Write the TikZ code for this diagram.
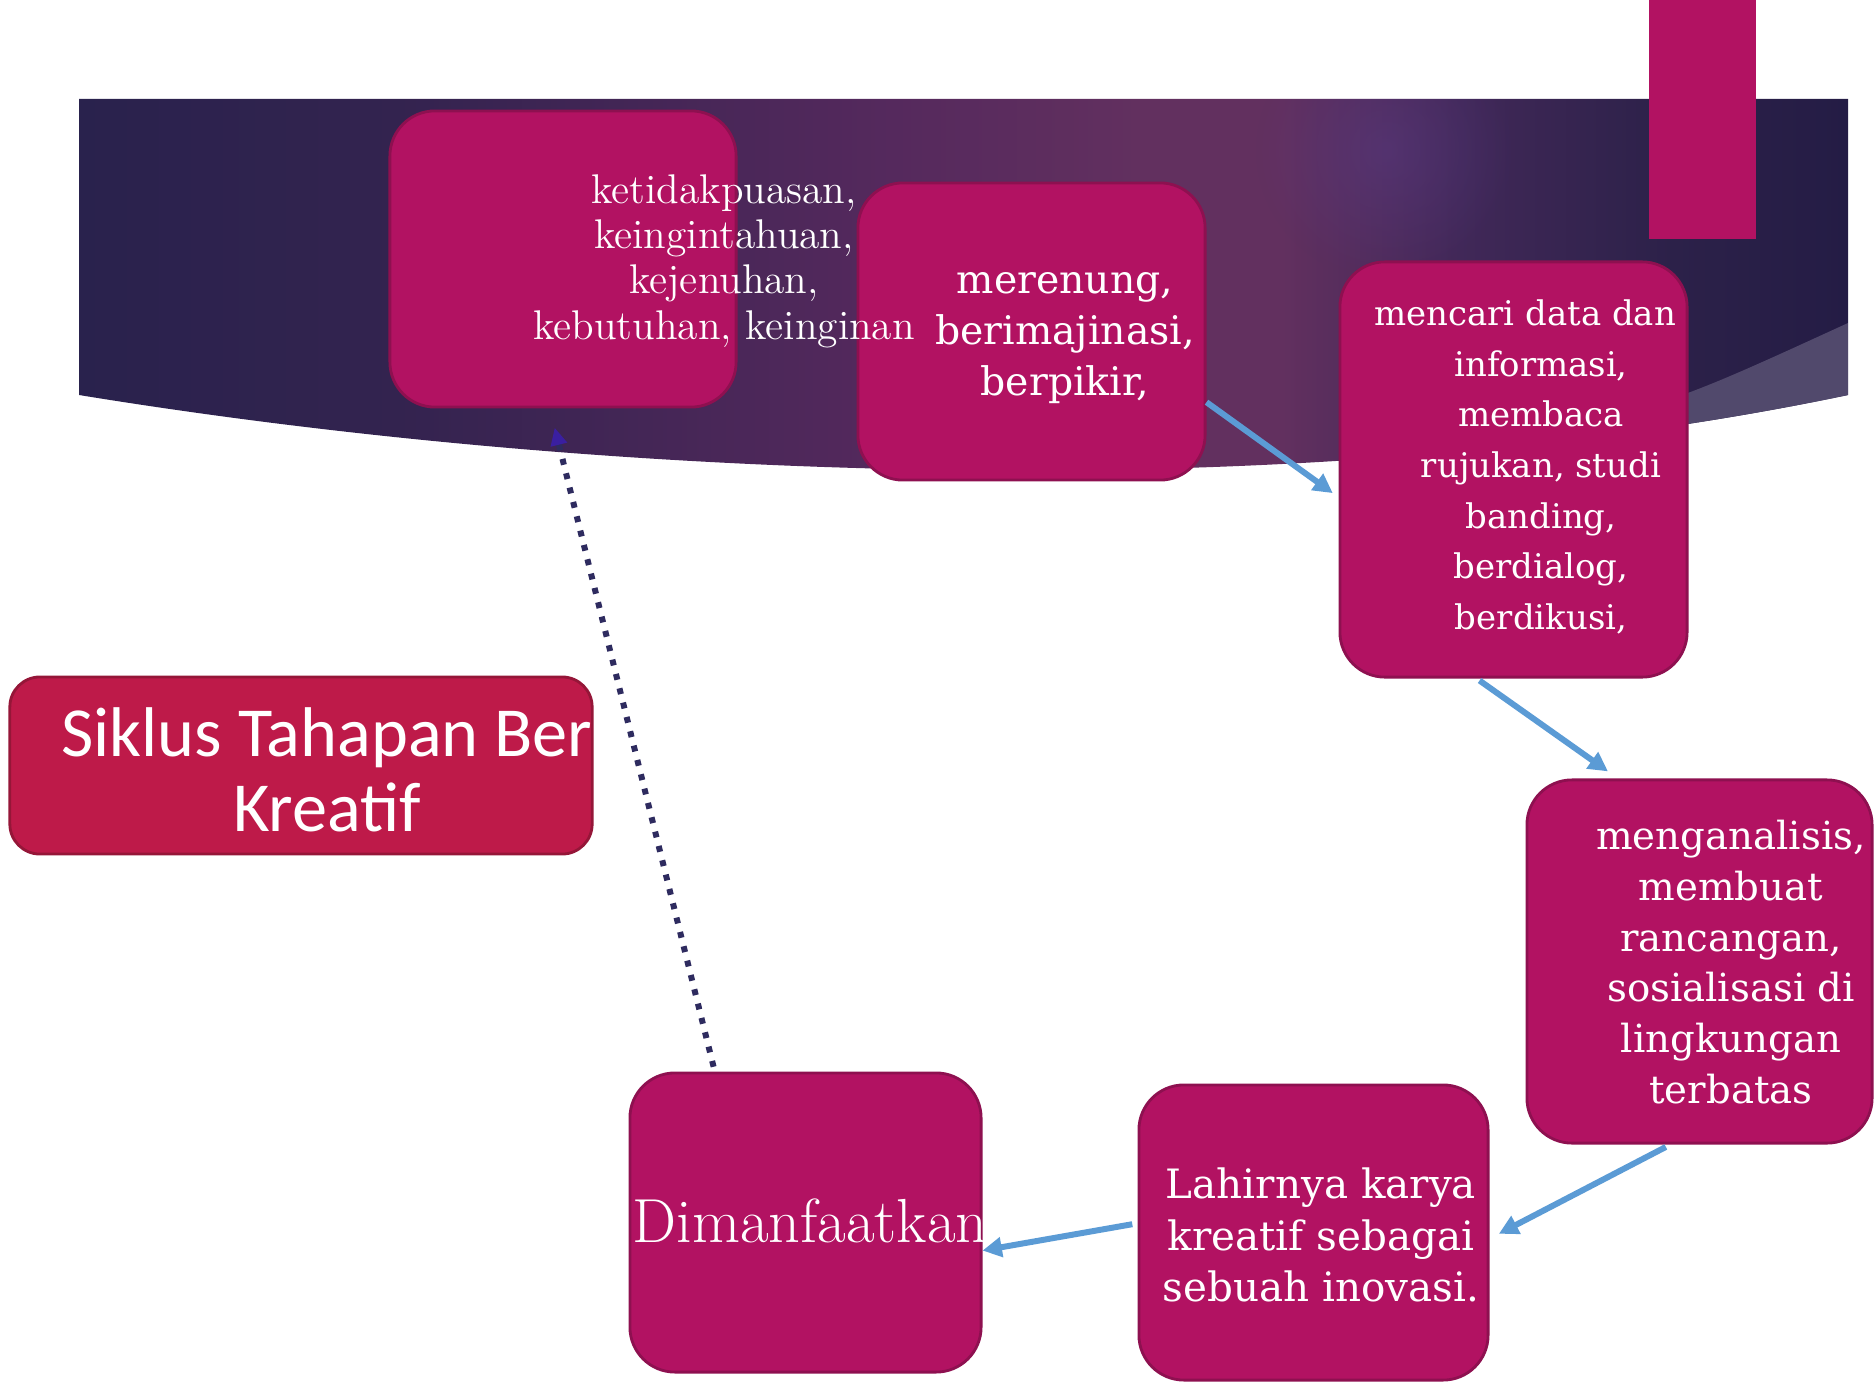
\documentclass[tikz,border=0pt]{standalone}
\usepackage{fontspec}
\newfontfamily\wideserif{DejaVu Serif}
\newfontfamily\titlesans{Carlito}
\usetikzlibrary{arrows.meta,fadings}

\definecolor{boxpink}{HTML}{B21262}
\definecolor{boxedge}{HTML}{8E1050}
\definecolor{titlered}{HTML}{BE1A49}
\definecolor{titleedge}{HTML}{951638}
\definecolor{flowblue}{HTML}{5B9BD5}
\definecolor{loopnavy}{HTML}{2E2B5F}
\definecolor{looptip}{HTML}{3A1FA0}
\definecolor{sliver}{HTML}{51496C}
\definecolor{glow}{HTML}{5A3C88}
\definecolor{bandA}{HTML}{29224D}
\definecolor{bandB}{HTML}{33234F}
\definecolor{bandC}{HTML}{55295D}
\definecolor{bandD}{HTML}{62305F}
\definecolor{bandE}{HTML}{412858}
\definecolor{bandF}{HTML}{2C2149}
\definecolor{bandG}{HTML}{241C45}

\pgfdeclarehorizontalshading{bandshade}{100bp}{color(0bp)=(bandA); color(25bp)=(bandA); color(34bp)=(bandB); color(48bp)=(bandC); color(55bp)=(bandD); color(59bp)=(bandD); color(64bp)=(bandE); color(70bp)=(bandF); color(75bp)=(bandG); color(100bp)=(bandG)}
\tikzfading[name=glowfade, inner color=transparent!0, outer color=transparent!100]

\begin{document}
\begin{tikzpicture}[x=0.01cm,y=-0.01cm,
  box/.style={draw=boxedge,line width=0.8pt,fill=boxpink,rounded corners=0.45cm,
    minimum width=#1,inner sep=0pt},
  titlebox/.style={draw=titleedge,line width=0.8pt,fill=titlered,rounded corners=0.3cm,
    minimum width=5.82cm,minimum height=1.77cm,inner sep=0pt},
  boxtext/.style={text=white,align=center,inner sep=0pt},
  flow/.style={draw=flowblue,line width=1.7pt,-{Triangle[length=5.5pt,width=5.5pt]}},
  backflow/.style={draw=loopnavy,line width=1.7pt,dash pattern=on 1.7pt off 2.5pt,
    -{Triangle[length=5pt,width=4.5pt,color=looptip]}}]
\useasboundingbox (0,0) rectangle (1876,1382);

% background band
\shade[shading=bandshade] (79,99) -- (1848,99) -- (1848,395)
  .. controls (1300,510) and (600,480) .. (79,395) -- cycle;
\begin{scope}
\clip (79,99) -- (1848,99) -- (1848,395)
  .. controls (1300,510) and (600,480) .. (79,395) -- cycle;
\fill[glow,path fading=glowfade,fill opacity=0.45] (1385,150) circle (130);
\fill[sliver] (1504,447) .. controls (1680,400) .. (1848,323) -- (1848,520) -- (1504,520) -- cycle;
\end{scope}
\fill[boxpink] (1649,0) rectangle (1756,239);

% boxes
\node[box=3.46cm,minimum height=2.96cm] (b1) at (563,259) {};
\node[box=3.47cm,minimum height=2.97cm] (b2) at (1031.5,331.5) {};
\node[box=3.47cm,minimum height=4.15cm] (b3) at (1513.5,469.5) {};
\node[box=3.45cm,minimum height=3.63cm] (b4) at (1699.5,961.5) {};
\node[box=3.49cm,minimum height=2.95cm] (b5) at (1313.5,1232.5) {};
\node[box=3.51cm,minimum height=2.99cm] (b6) at (805.5,1222.5) {};
\node[titlebox] (tb) at (301,765.5) {};

% arrows
\draw[flow,shorten >=2pt] (b2.-22.7) -- (b3.189.5);
\draw[flow,shorten <=1pt,shorten >=3.5pt] (b3.260.8) -- (b4.114.2);
\draw[flow,shorten <=1.5pt,shorten >=3pt] (b4.261) -- (b5.-2.3);
\draw[flow,shorten <=1.5pt] (b5.177.9) -- (b6.-9.75);
\draw[backflow,shorten <=1.4pt,shorten >=5.6pt] (b6.121.2) -- (b1.265.2);

% texts
\node[boxtext,font=\fontsize{11.8}{12.9}\selectfont] (t1) at (724,261)
  {ketidakpuasan,\\ keingintahuan,\\ kejenuhan,\\ kebutuhan, keinginan};
\node[boxtext,font=\wideserif\fontsize{11.2}{14.6}\selectfont] (t2) at (1065,338)
  {merenung,\\ berimajinasi,\\ berpikir,};
\node[boxtext,font=\wideserif\fontsize{9.65}{14.4}\selectfont] (t3) at (1541,467)
  {mencari data dan\hspace*{9pt}\\ informasi,\\ membaca\\ rujukan, studi\\ banding,\\ berdialog,\\ berdikusi,};
\node[boxtext,font=\wideserif\fontsize{11}{14.4}\selectfont] (t4) at (1731,962)
  {menganalisis,\\ membuat\\ rancangan,\\ sosialisasi di\\ lingkungan\\ terbatas};
\node[boxtext,font=\wideserif\fontsize{11.5}{14.6}\selectfont] (t5) at (1321,1235)
  {Lahirnya karya\\ kreatif sebagai\\ sebuah inovasi.};
\node[boxtext,font=\fontsize{17.7}{20}\selectfont] (t6) at (810,1221) {Dimanfaatkan};
\node[boxtext,font=\titlesans\fontsize{20}{21.4}\selectfont] (tt) at (327,770)
  {Siklus Tahapan Ber\\ Kreatif};
\end{tikzpicture}
\end{document}
